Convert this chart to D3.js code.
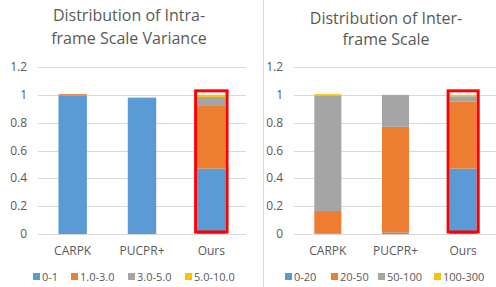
<!DOCTYPE html>
<html lang="en">
<head>
<meta charset="UTF-8">
<title>Scale distribution</title>
<script src="https://d3js.org/d3.v7.min.js"></script>
<style>
  body { margin: 0; background: #fff; }
  svg { display: block; font-family: "Open Sans", "Liberation Sans", sans-serif; }
</style>
</head>
<body>
<svg id="chart" width="496" height="287"></svg>
<script>
// data
const categories = ["CARPK", "PUCPR+", "Ours"];
const yTicks = [0, 0.2, 0.4, 0.6, 0.8, 1, 1.2];
const yTickLabels = ["0", "0.2", "0.4", "0.6", "0.8", "1", "1.2"];
const colors = ["#5b9bd5", "#ed7d31", "#a5a5a5", "#ffc000"];

// intra-frame scale variance
const intraKeys = ["0-1", "1.0-3.0", "3.0-5.0", "5.0-10.0"];
const intra_0_1   = [0.995, 0.98, 0.47];
const intra_1_3   = [0.01, 0, 0.45];
const intra_3_5   = [0, 0, 0.065];
const intra_5_10  = [0, 0, 0.015];

// inter-frame scale
const interKeys = ["0-20", "20-50", "50-100", "100-300"];
const inter_0_20    = [0.005, 0.01, 0.47];
const inter_20_50   = [0.16, 0.76, 0.48];
const inter_50_100  = [0.83, 0.23, 0.04];
const inter_100_300 = [0.01, 0, 0.01];

const svg = d3.select("#chart");

// divider between the two panels
svg.append("line")
  .attr("x1", 263.5).attr("x2", 263.5)
  .attr("y1", 0).attr("y2", 287)
  .attr("stroke", "#d9d9d9");

function drawPanel(opt) {
  const g = svg.append("g");
  const series = [opt.s0, opt.s1, opt.s2, opt.s3];
  const rows = categories.map((c, i) => {
    const r = { cat: c };
    opt.keys.forEach((k, j) => r[k] = series[j][i]);
    return r;
  });
  const stacked = d3.stack().keys(opt.keys)(rows);

  const x = d3.scaleBand().domain(categories)
    .range(opt.xRange).paddingInner(opt.pad).paddingOuter(opt.pad / 2);
  const y = d3.scaleLinear().domain([0, 1.2]).range([234, 67]);

  // title
  opt.title.forEach((t, i) => {
    g.append("text")
      .attr("x", opt.titleX).attr("y", opt.titleY[i])
      .attr("text-anchor", "middle")
      .attr("font-size", 16)
      .attr("fill", "#595959")
      .text(t);
  });

  // gridlines
  g.selectAll(".grid").data(yTicks).enter().append("line")
    .attr("x1", opt.xRange[0]).attr("x2", opt.xRange[1])
    .attr("y1", d => Math.round(y(d)) + 0.5).attr("y2", d => Math.round(y(d)) + 0.5)
    .attr("stroke", "#d9d9d9");

  // y labels
  g.selectAll(".ylab").data(yTicks).enter().append("text")
    .attr("x", opt.yLabelX).attr("y", d => y(d) + 4)
    .attr("text-anchor", "end")
    .attr("font-size", 12)
    .attr("fill", "#595959")
    .text((d, i) => yTickLabels[i]);

  // bars
  stacked.forEach((layer, j) => {
    g.selectAll(null).data(layer).enter().append("rect")
      .attr("x", d => x(d.data.cat))
      .attr("width", x.bandwidth())
      .attr("y", d => y(d[1]))
      .attr("height", d => Math.max(0, y(d[0]) - y(d[1])))
      .attr("fill", colors[j]);
  });

  // highlight box around "Ours"
  g.append("rect")
    .attr("x", x("Ours") - 1.5)
    .attr("width", x.bandwidth() + 3)
    .attr("y", y(1) - 4)
    .attr("height", y(0) - y(1) + 2)
    .attr("fill", "none")
    .attr("stroke", "#ff0000")
    .attr("stroke-width", 3);

  // category labels
  g.selectAll(".xlab").data(categories).enter().append("text")
    .attr("x", d => x(d) + x.bandwidth() / 2)
    .attr("y", 255)
    .attr("text-anchor", "middle")
    .attr("font-size", 12)
    .attr("fill", "#595959")
    .text(d => d);

  // legend
  opt.keys.forEach((k, j) => {
    const lx = opt.legendX[j];
    g.append("rect")
      .attr("x", lx).attr("y", 273)
      .attr("width", 7).attr("height", 7)
      .attr("fill", colors[j]);
    g.append("text")
      .attr("x", lx + 9).attr("y", 281)
      .attr("font-size", 11)
      .attr("fill", "#595959")
      .text(k);
  });
}

drawPanel({
  keys: intraKeys,
  s0: intra_0_1, s1: intra_1_3, s2: intra_3_5, s3: intra_5_10,
  xRange: [38, 246], pad: 0.59,
  title: ["Distribution of Intra-", "frame Scale Variance"],
  titleX: 129, titleY: [21, 44],
  yLabelX: 27,
  legendX: [33, 71, 128, 185]
});

drawPanel({
  keys: interKeys,
  s0: inter_0_20, s1: inter_20_50, s2: inter_50_100, s3: inter_100_300,
  xRange: [294, 497], pad: 0.6,
  title: ["Distribution of Inter-", "frame Scale"],
  titleX: 386, titleY: [24, 45],
  yLabelX: 283,
  legendX: [285, 331, 378, 434]
});
</script>
</body>
</html>
